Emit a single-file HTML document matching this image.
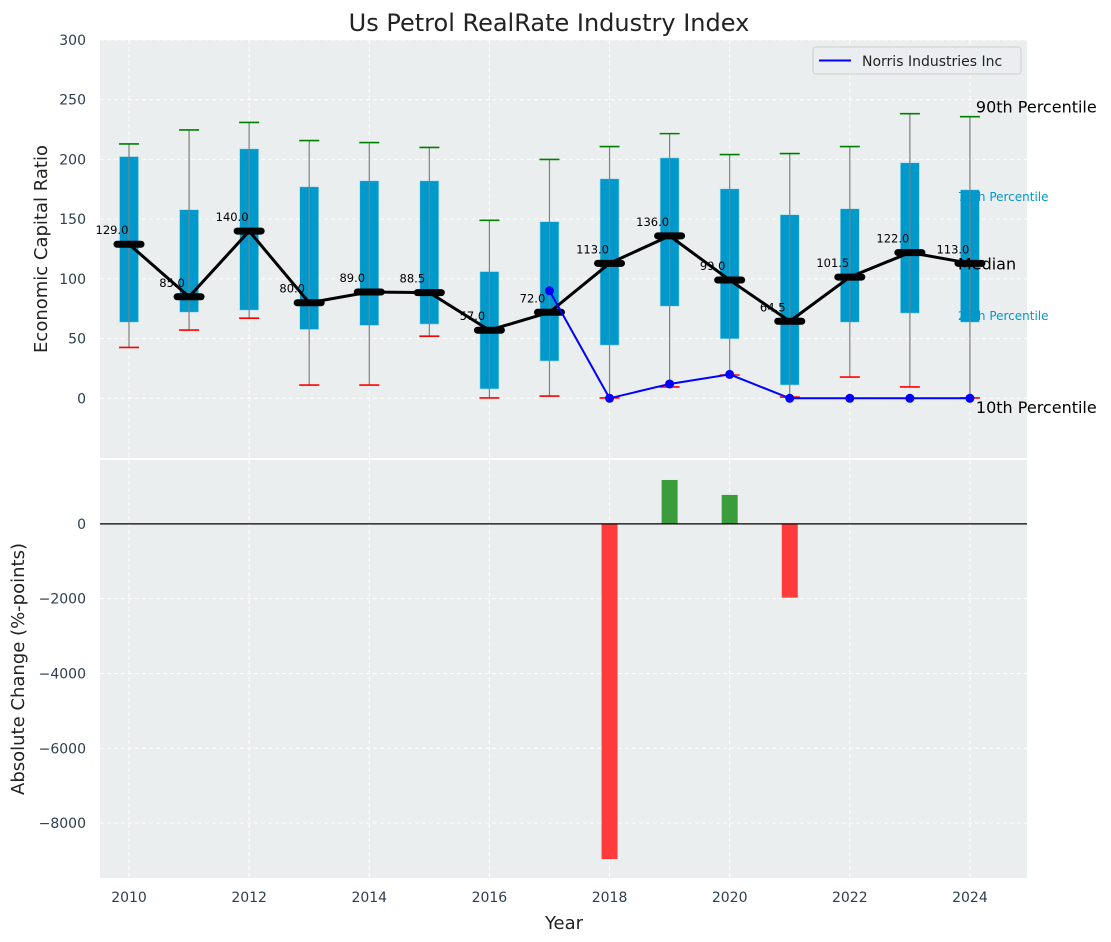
<!DOCTYPE html>
<html><head><meta charset="utf-8"><style>
body{margin:0;background:#fff;}
svg{display:block;font-family:"DejaVu Sans","Liberation Sans",sans-serif;}
</style></head><body>
<svg id="c" width="1111" height="942" xmlns="http://www.w3.org/2000/svg"></svg>
<script>
const years=[2010,2011,2012,2013,2014,2015,2016,2017,2018,2019,2020,2021,2022,2023,2024];
const p90=[213,224.7,231,215.8,214.1,210,149,200,210.8,221.6,204.1,204.9,210.8,238.3,235.8];
const q3=[202.4,157.9,208.9,177.1,182.1,182.1,106.1,147.9,183.8,201.3,175.4,153.7,158.7,197.2,174.6];
const medians=[129,85,140,80,89,88.5,57,72,113,136,99,64.5,101.5,122,113];
const q1=[63.7,72.1,73.8,57.6,61,62.1,7.8,31.2,44.5,77.1,49.8,11.1,63.7,71.3,63.7];
const p10=[42.6,57.1,67.1,11.1,11.1,52,0.3,1.9,0.3,9.5,19.5,1,17.8,9.5,0.3];
const companyYears=[2017,2018,2019,2020,2021,2022,2023,2024];
const companyValues=[90,0,12,20,0,0,0,0];
const changeYears=[2018,2019,2020,2021];
const changeValues=[-8960,1173,773,-1973];
const topTicks=[0,50,100,150,200,250,300];
const botTicks=[0,-2000,-4000,-6000,-8000];
const xTicks=[2010,2012,2014,2016,2018,2020,2022,2024];

const NS="http://www.w3.org/2000/svg";
const svg=document.getElementById('c');
function el(tag,attrs,parent,text){const e=document.createElementNS(NS,tag);for(const k in attrs)e.setAttribute(k,attrs[k]);if(text!==undefined)e.textContent=text;(parent||svg).appendChild(e);return e;}
const L=100,R=1027,T1=40,B1=458,T2=460,B2=878;
const X=v=>L+(v-2009.517)/(2024.95-2009.517)*(R-L);
const Y1=v=>T1+(300-v)/350*(B1-T1);
const Y2=v=>T2+(1707-v)/(1707+9467)*(B2-T2);

let e;
e=el('rect',{x:L,y:T1,width:R-L,height:B1-T1,fill:'#eaeeee'});

e=el('rect',{x:L,y:T2,width:R-L,height:B2-T2,fill:'#eaeeee'});


for(const t of topTicks){el('line',{x1:L,x2:R,y1:Y1(t),y2:Y1(t),stroke:'#fff','stroke-dasharray':'4,3','stroke-width':1});
 e=el('text',{x:L-14,y:Y1(t)+5,'text-anchor':'end','font-size':14,fill:'#2c3e50'},svg,String(t));
 }
for(const t of botTicks){el('line',{x1:L,x2:R,y1:Y2(t),y2:Y2(t),stroke:'#fff','stroke-dasharray':'4,3','stroke-width':1});
 e=el('text',{x:L-14,y:Y2(t)+5,'text-anchor':'end','font-size':14,fill:'#2c3e50'},svg,String(t).replace('-','\u2212'));
 }
for(const t of xTicks){
 el('line',{x1:X(t),x2:X(t),y1:T1,y2:B1,stroke:'#fff','stroke-dasharray':'4,3'});
 el('line',{x1:X(t),x2:X(t),y1:T2,y2:B2,stroke:'#fff','stroke-dasharray':'4,3'});
 e=el('text',{x:X(t),y:B2+24,'text-anchor':'middle','font-size':14,fill:'#2c3e50'},svg,String(t));
 }

years.forEach((yr,i)=>{
 const cx=X(yr);
 const g=el('g',{});
 
 el('rect',{x:cx-9.5,y:Y1(q3[i]),width:19,height:Y1(q1[i])-Y1(q3[i]),fill:'#0099cc',stroke:'#a8dcef','stroke-width':0.6},g);
 el('line',{x1:cx,x2:cx,y1:Y1(p90[i]),y2:Y1(p10[i]),stroke:'#808080','stroke-width':1.2},g);
 el('line',{x1:cx-10,x2:cx+10,y1:Y1(p90[i]),y2:Y1(p90[i]),stroke:'#008000','stroke-width':1.6},g);
 el('line',{x1:cx-10,x2:cx+10,y1:Y1(p10[i]),y2:Y1(p10[i]),stroke:'#ff0000','stroke-width':1.6},g);
});
e=el('polyline',{points:years.map((y,i)=>X(y)+','+Y1(medians[i])).join(' '),fill:'none',stroke:'#000','stroke-width':3});

years.forEach((yr,i)=>{
 const cx=X(yr),cy=Y1(medians[i]);
 e=el('line',{x1:cx-12,x2:cx+12,y1:cy,y2:cy,stroke:'#000','stroke-width':7,'stroke-linecap':'round'});
 
 e=el('text',{x:cx-17,y:cy-10,'text-anchor':'middle','font-size':11.5,fill:'#000'},svg,medians[i].toFixed(1));
 
});
e=el('polyline',{points:companyYears.map((y,i)=>X(y)+','+Y1(companyValues[i])).join(' '),fill:'none',stroke:'#0000ff','stroke-width':2});

companyYears.forEach((y,i)=>{
 e=el('circle',{cx:X(y),cy:Y1(companyValues[i]),r:4.5,fill:'#0000ff'});
 
});
const lx=X(2024);
function lab(t,x,y,sz,col,name){e=el('text',{x:x,y:y,'font-size':sz,fill:col},svg,t);}
lab('90th Percentile',lx+6,Y1(p90[14])-4,16,'#000','label-90th');
lab('75th Percentile',lx-12,Y1(q3[14])+11,12,'#0099cc','label-75th');
lab('Median',lx-12,Y1(medians[14])+6,16,'#000','label-median');
lab('25th Percentile',lx-12,Y1(q1[14])-2,12,'#0099cc','label-25th');
lab('10th Percentile',lx+6,Y1(p10[14])+15,16,'#000','label-10th');

const lg=el('g',{});
el('rect',{x:813,y:47,width:208,height:27,rx:3,fill:'#eaeef0',stroke:'#cfcfcf'},lg);
el('line',{x1:819,x2:851,y1:60.5,y2:60.5,stroke:'#0000ff','stroke-width':2},lg);
el('text',{x:862,y:66,'font-size':14,fill:'#222'},lg,'Norris Industries Inc');

changeYears.forEach((y,i)=>{
 const v=changeValues[i];const y0=Y2(0),yv=Y2(v);
 e=el('rect',{x:X(y)-8,y:Math.min(y0,yv),width:16,height:Math.abs(yv-y0),fill:v<0?'#ff3b3b':'#3a9c3a'});
 
});
e=el('line',{x1:L,x2:R,y1:Y2(0),y2:Y2(0),stroke:'#000','stroke-width':1.2});


lab('Us Petrol RealRate Industry Index',0,0,24,'#222','chart-title');
e.setAttribute('x',549);e.setAttribute('y',31);e.setAttribute('text-anchor','middle');
e=el('text',{x:0,y:0,'font-size':18,fill:'#222','text-anchor':'middle',transform:'translate(47,249) rotate(-90)'},svg,'Economic Capital Ratio');

e=el('text',{x:0,y:0,'font-size':18,fill:'#222','text-anchor':'middle',transform:'translate(24,669) rotate(-90)'},svg,'Absolute Change (%-points)');

e=el('text',{x:564,y:929,'font-size':18,fill:'#222','text-anchor':'middle'},svg,'Year');

</script>
</body></html>
